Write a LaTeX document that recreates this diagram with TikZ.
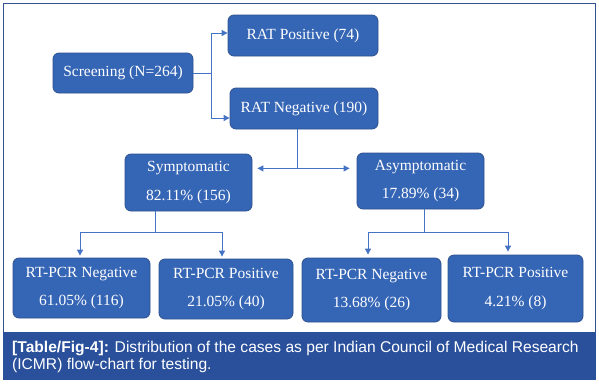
\documentclass[tikz,border=0pt]{standalone}
\usepackage{fontspec}
\setmainfont{Liberation Serif}
\newfontfamily\capfont{Liberation Sans}
\usetikzlibrary{arrows.meta,calc}
\definecolor{boxfill}{RGB}{53,101,181}
\definecolor{boxline}{RGB}{47,82,143}
\definecolor{conn}{RGB}{68,114,196}
\definecolor{frame}{RGB}{47,82,143}
\definecolor{capband}{RGB}{42,80,155}
\tikzset{
  fbox/.style={draw=boxline, line width=0.8pt, fill=boxfill, rounded corners=6pt,
    text=white, align=center, inner sep=0pt,
    font=\fontsize{15.5}{28.5}\selectfont},
  arr/.style={draw=conn, line width=0.9pt, -{Triangle[length=6pt,width=6pt]}},
  ln/.style={draw=conn, line width=0.9pt},
}
\begin{document}
\begin{tikzpicture}[x=1pt,y=-1pt]
\useasboundingbox (0,0) rectangle (599,383);
\draw[frame, line width=1pt] (3,332) -- (3,3) -- (595,3) -- (595,332);
\fill[capband] (3,332) rectangle (596,380);
\node[anchor=north west, text=white, inner sep=0pt, align=left,
  font=\capfont\fontsize{15.6}{17}\selectfont] (cap) at (12,341)
  {\textbf{[Table/Fig-4]:} Distribution of the cases as per Indian Council of Medical Research\\(ICMR) flow-chart for testing.};

\node[fbox, minimum width=140pt, minimum height=40pt] (scr) at (123,73) {Screening (N=264)};
\node[fbox, minimum width=150pt, minimum height=41pt] (pos) at (303,35.5) {RAT Positive (74)};
\node[fbox, minimum width=148pt, minimum height=41pt] (neg) at (304,108.5) {RAT Negative (190)};
\node[fbox, minimum width=127pt, minimum height=57pt] (sym) at (188.5,182.5) {Symptomatic\\82.11\% (156)};
\node[fbox, minimum width=127pt, minimum height=56pt] (asym) at (420.5,181) {Asymptomatic\\17.89\% (34)};
\node[fbox, minimum width=137pt, minimum height=60pt] (n1) at (81.5,288) {RT-PCR Negative\\61.05\% (116)};
\node[fbox, minimum width=134pt, minimum height=60pt] (p1) at (226,289) {RT-PCR Positive\\21.05\% (40)};
\node[fbox, minimum width=139pt, minimum height=64pt] (n2) at (371.5,290) {RT-PCR Negative\\13.68\% (26)};
\node[fbox, minimum width=135pt, minimum height=67pt] (p2) at (515.5,288.5) {RT-PCR Positive\\4.21\% (8)};

% screening split
\coordinate (j1) at ($(scr.east)+(18,0)$);
\draw[ln] (scr.east) -- (j1);
\draw[arr] (j1) |- ([yshift=2.5pt]pos.west);
\draw[arr] (j1) |- ([yshift=-9.5pt]neg.west);

% RAT negative split
\coordinate (j2) at ($(neg.south)+(-7,39)$);
\draw[ln] ([xshift=-7pt]neg.south) -- (j2);
\draw[arr, shorten >=5pt] (j2) -- (j2 -| sym.east);
\draw[arr, shorten >=7pt] (j2) -- (j2 -| asym.west);

% symptomatic split
\coordinate (j3) at ($(sym.south)+(-33.5,21)$);
\draw[ln] ([xshift=-33.5pt]sym.south) -- (j3);
\draw[ln] ([xshift=-1.5pt]n1.north |- j3) -- ([xshift=-4pt]p1.north |- j3);
\draw[arr, shorten >=2pt] ([xshift=-1.5pt]n1.north |- j3) -- ([xshift=-1.5pt]n1.north);
\draw[arr, shorten >=2pt] ([xshift=-4pt]p1.north |- j3) -- ([xshift=-4pt]p1.north);

% asymptomatic split
\coordinate (j4) at ($(asym.south)+(3.5,23)$);
\draw[ln] ([xshift=3.5pt]asym.south) -- (j4);
\draw[ln] ([xshift=-3.5pt]n2.north |- j4) -- ([xshift=-7.5pt]p2.north |- j4);
\draw[arr, shorten >=3pt] ([xshift=-3.5pt]n2.north |- j4) -- ([xshift=-3.5pt]n2.north);
\draw[arr, shorten >=3pt] ([xshift=-7.5pt]p2.north |- j4) -- ([xshift=-7.5pt]p2.north);
\end{tikzpicture}
\end{document}
